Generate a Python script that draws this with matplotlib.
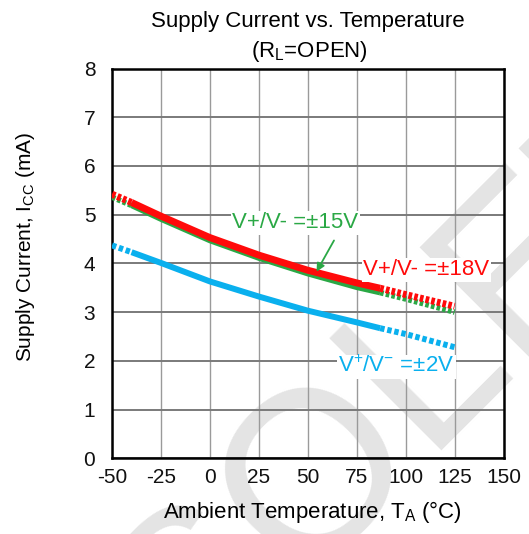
import numpy as np
import matplotlib
matplotlib.use("Agg")
import matplotlib.pyplot as plt

plt.rcParams['font.family'] = ['Liberation Sans', 'DejaVu Sans']
plt.rcParams['mathtext.fontset'] = 'custom'
plt.rcParams['mathtext.rm'] = 'Liberation Sans'
plt.rcParams['mathtext.it'] = 'Liberation Sans:italic'
plt.rcParams['mathtext.bf'] = 'Liberation Sans:bold'
plt.rcParams['axes.unicode_minus'] = False
plt.rcParams['lines.scale_dashes'] = False

# supply current (mA) vs ambient temperature (degC)
temp = [-50, -40, -25, 0, 25, 50, 75, 87, 100, 125]
icc_18v = [5.42, 5.25, 4.97, 4.53, 4.17, 3.86, 3.60, 3.49, 3.36, 3.12]
icc_15v = [5.36, 5.19, 4.91, 4.47, 4.11, 3.79, 3.51, 3.40, 3.27, 3.00]
icc_2v = [4.37, 4.23, 4.01, 3.63, 3.32, 3.03, 2.79, 2.67, 2.55, 2.28]

# measured range is drawn solid, the ends dashed
solid_lo, solid_hi = 1, 7

x_ticks = [-50, -25, 0, 25, 50, 75, 100, 125, 150]
y_ticks = [0, 1, 2, 3, 4, 5, 6, 7, 8]

RED = '#ff0a0a'
GREEN = '#2aa845'
BLUE = '#0ab0ee'

fig = plt.figure(figsize=(5.29, 5.34), dpi=100)
ax = fig.add_axes([0.2117, 0.1418, 0.7401, 0.7299])
ax.patch.set_alpha(0)

# watermark behind the axes
fig.text(0.745, 0.088, 'OBSOLETE', fontsize=166, color='#e4e4e4',
         rotation=45, rotation_mode='anchor', ha='center', va='baseline',
         zorder=-5)


def draw(y, color, lw, dash):
    t = np.array(temp)
    y = np.array(y)
    ax.plot(t[:solid_lo + 1], y[:solid_lo + 1], color=color, lw=lw,
            dashes=dash, dash_capstyle='butt', zorder=4)
    ax.plot(t[solid_lo:solid_hi + 1], y[solid_lo:solid_hi + 1], color=color,
            lw=lw, solid_capstyle='butt', zorder=4)
    ax.plot(t[solid_hi:], y[solid_hi:], color=color, lw=lw,
            dashes=dash, dash_capstyle='butt', zorder=4)


draw(icc_2v, BLUE, 4.3, (3.2, 2.0))
draw(icc_15v, GREEN, 4.0, (2.6, 1.6))
draw(icc_18v, RED, 5.0, (2.6, 1.6))

ax.set_xlim(-50, 150)
ax.set_ylim(0, 8)
ax.set_xticks(x_ticks)
ax.set_yticks(y_ticks)
ax.tick_params(length=0, labelsize=15, colors='#111111')
ax.tick_params(axis='x', pad=7)
ax.tick_params(axis='y', pad=12)

ax.grid(axis='y', color='#7a7a7a', lw=1.4, zorder=1)
ax.grid(axis='x', color='#9a9a9a', lw=1.0, zorder=1)
ax.set_axisbelow(True)
for s in ax.spines.values():
    s.set_linewidth(1.8)
    s.set_color('black')

ax.set_xlabel(r'Ambient Temperature, T$_{\mathrm{A}}$ (°C)', fontsize=16)
ax.set_ylabel(r'Supply Current, I$_{\mathrm{CC}}$ (mA)', fontsize=15)
ax.xaxis.set_label_coords(0.511, -0.105)
ax.yaxis.set_label_coords(-0.192, 0.543)

fig.text(0.582, 0.960, 'Supply Current vs. Temperature', fontsize=16,
         ha='center', va='center')
fig.text(0.586, 0.903, r'(R$_{\mathrm{L}}$=OPEN)', fontsize=16,
         ha='center', va='center')

box = dict(facecolor='white', edgecolor='none', pad=1)
ax.text(11.4, 4.83, 'V+/V- =±15V', color=GREEN, fontsize=16,
        va='center', bbox=box, zorder=5)
ax.text(78.4, 3.87, 'V+/V- =±18V', color=RED, fontsize=16,
        va='center', bbox=box, zorder=5)
ax.text(65.6, 1.88, r'V$^{+}$/V$^{-}$ =±2V', color=BLUE, fontsize=16,
        va='center', bbox=box, zorder=5)

ax.annotate('', xy=(53.8, 3.78), xytext=(64.1, 4.52),
            arrowprops=dict(arrowstyle='-|>', color=GREEN, lw=1.3,
                            mutation_scale=12), zorder=6)

fig.savefig('out.png', dpi=100)
